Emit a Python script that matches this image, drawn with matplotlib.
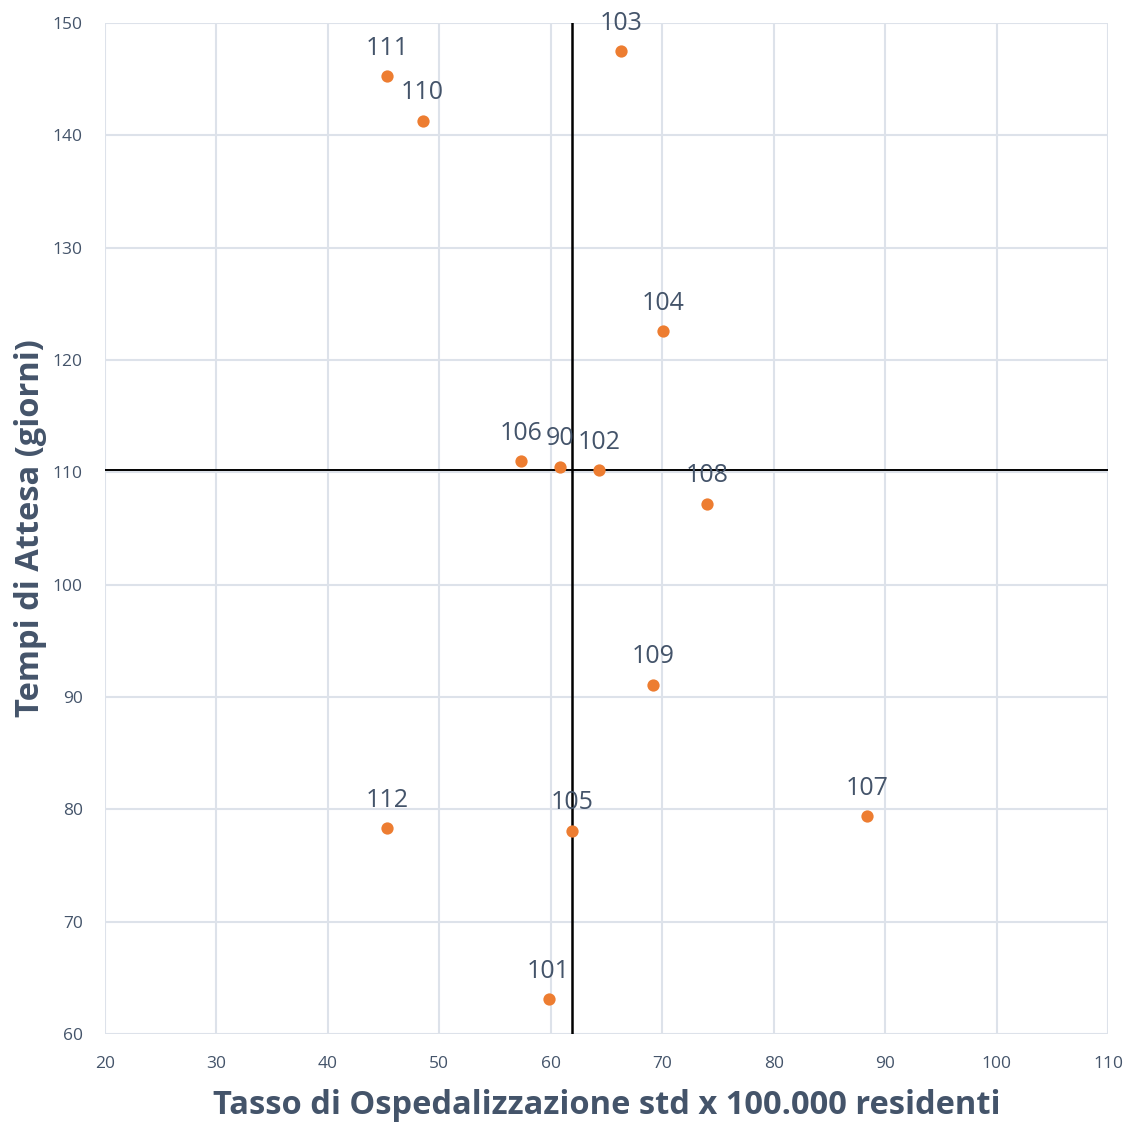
import matplotlib.pyplot as plt

# Hospitalisation rate vs waiting time by district
codici = ["111", "110", "103", "104", "106", "90", "102", "108", "109", "107", "112", "105", "101"]
tasso = [45.3, 48.5, 66.3, 70.1, 57.3, 60.8, 64.3, 74.0, 69.2, 88.4, 45.3, 61.9, 59.8]
tempi = [145.3, 141.3, 147.5, 122.6, 111.0, 110.5, 110.2, 107.2, 91.1, 79.4, 78.3, 78.1, 63.1]

# reference lines (regional values)
rif_tasso = 61.9
rif_tempi = 110.2

x_ticks = list(range(20, 111, 10))
y_ticks = list(range(60, 151, 10))

TESTO = "#44546a"
GRIGLIA = "#dde2ea"
ARANCIO = "#ed7d31"

plt.rcParams["font.family"] = ["Open Sans", "DejaVu Sans"]

fig = plt.figure(figsize=(11.26, 11.23), dpi=100)
ax = fig.add_axes([0.0933, 0.0793, 0.8907, 0.9002])

ax.set_xlim(20, 110)
ax.set_ylim(60, 150)
ax.set_xticks(x_ticks)
ax.set_yticks(y_ticks)
ax.grid(True, color=GRIGLIA, linewidth=1.5)
ax.set_axisbelow(True)
for s in ax.spines.values():
    s.set_visible(False)
ax.tick_params(length=0, labelsize=12.5, labelcolor=TESTO)
ax.tick_params(axis="x", pad=16)
ax.tick_params(axis="y", pad=16)

ax.axvline(rif_tasso, color="black", linewidth=1.8, zorder=2)
ax.axhline(rif_tempi, color="black", linewidth=1.4, zorder=2)

ax.scatter(tasso, tempi, s=78, color=ARANCIO, zorder=3, linewidths=0)

for c, x, y in zip(codici, tasso, tempi):
    ax.annotate(c, (x, y), xytext=(0, 11), textcoords="offset points",
                ha="center", va="bottom", fontsize=18, color=TESTO,
                zorder=4, annotation_clip=False)

ax.set_xlabel("Tasso di Ospedalizzazione std x 100.000 residenti",
              fontsize=23.5, fontweight="bold", color=TESTO, labelpad=12)
ax.set_ylabel("Tempi di Attesa (giorni)",
              fontsize=23.5, fontweight="bold", color=TESTO, labelpad=4)

fig.savefig("out.png", dpi=100)
